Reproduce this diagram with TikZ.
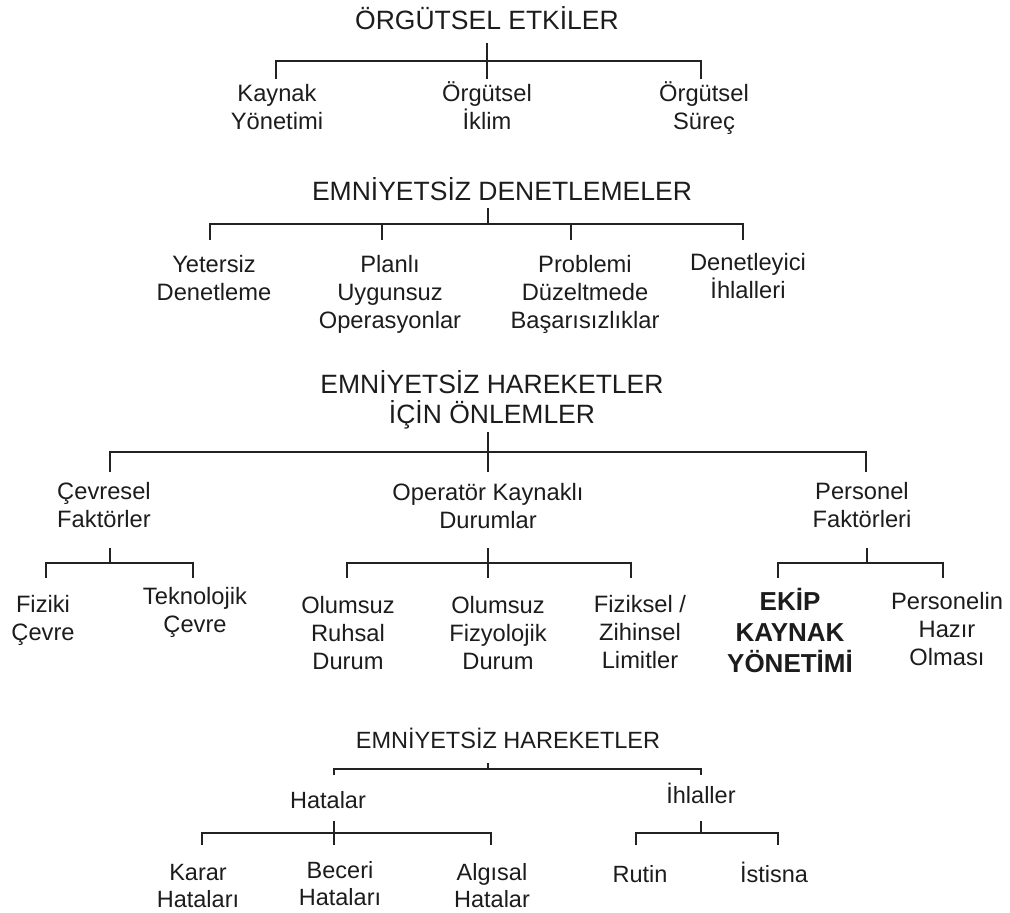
\documentclass[tikz,border=0pt]{standalone}
\usepackage{fontspec}
\setmainfont{Liberation Sans}
\usepackage{tikz}
\usetikzlibrary{positioning}
\definecolor{inkblack}{RGB}{28,28,28}
\definecolor{linegrey}{RGB}{34,34,34}
\newcommand{\headsize}{\fontsize{26.5}{30}\selectfont}
\newcommand{\leafsize}{\fontsize{23.7}{28}\selectfont}
\newcommand{\lowsize}{\fontsize{23.5}{27}\selectfont}
\newcommand{\keysize}{\fontsize{26}{31}\selectfont\bfseries}
\tikzset{
  base/.style={align=center, inner sep=0pt, text=inkblack, anchor=base},
  head/.style={base, font=\headsize},
  leaf/.style={base, font=\leafsize},
  lowhead/.style={base, font=\lowsize},
  lowleaf/.style={base, font=\lowsize},
  keyleaf/.style={base, font=\keysize},
  link/.style={draw=linegrey, line width=1.9pt},
  lowlink/.style={draw=linegrey, line width=1.4pt},
}

\begin{document}
\begin{tikzpicture}[x=1pt,y=-1pt]
  \useasboundingbox (0,0) rectangle (1010,913);
  % levels of the brackets
  \coordinate (s1top) at (0,43);  \coordinate (s1bar) at (0,61);  \coordinate (s1end) at (0,79);
  \coordinate (s2top) at (0,208); \coordinate (s2bar) at (0,224); \coordinate (s2end) at (0,240);
  \coordinate (s3top) at (0,432); \coordinate (s3bar) at (0,452); \coordinate (s3end) at (0,472);
  \coordinate (u1top) at (0,548); \coordinate (u1bar) at (0,563); \coordinate (u1end) at (0,578);
  \coordinate (v0top) at (0,763); \coordinate (v0bar) at (0,769); \coordinate (v0end) at (0,775);
  \coordinate (v1top) at (0,821); \coordinate (v1bar) at (0,833); \coordinate (v1end) at (0,845);

  % orgutsel etkiler (nodes sit on the baseline of their last line)
  \node[head] (t1) at (487,29) {ÖRGÜTSEL ETKİLER};
  \node[leaf] (a1) at (277,129) {Kaynak\\Yönetimi};
  \node[leaf] (a2) at (487,129) {Örgütsel\\İklim};
  \node[leaf] (a3) at (704,129) {Örgütsel\\Süreç};
  \draw[link] (t1 |- s1top) -- (a2 |- s1end);
  \draw[link] ([xshift=-1pt]a1 |- s1end) |- ([xshift=-3pt]a3 |- s1bar) -- ([xshift=-3pt]a3 |- s1end);

  % emniyetsiz denetlemeler
  \node[head] (t2) at (502,200) {EMNİYETSİZ DENETLEMELER};
  \node[leaf] (b1) at (214,300) {Yetersiz\\Denetleme};
  \node[leaf] (b2) at (390,328) {Planlı\\Uygunsuz\\Operasyonlar};
  \node[leaf] (b3) at (585,328) {Problemi\\Düzeltmede\\Başarısızlıklar};
  \node[leaf] (b4) at (748,298) {Denetleyici\\İhlalleri};
  \draw[link] ([xshift=-14pt]t2 |- s2top) -- ([xshift=-14pt]t2 |- s2bar);
  \draw[link] ([xshift=-4pt]b1 |- s2end) |- ([xshift=-5pt]b4 |- s2bar) -- ([xshift=-5pt]b4 |- s2end);
  \draw[link] ([xshift=-8pt]b2 |- s2bar) -- ([xshift=-8pt]b2 |- s2end);
  \draw[link] ([xshift=-14pt]b3 |- s2bar) -- ([xshift=-14pt]b3 |- s2end);

  % onlemler
  \node[head] (t3) at (492,423) {EMNİYETSİZ HAREKETLER\\İÇİN ÖNLEMLER};
  \node[leaf] (c1) at (104,527) {Çevresel\\Faktörler};
  \node[leaf] (c2) at (488,528) {Operatör Kaynaklı\\Durumlar};
  \node[leaf] (c3) at (862,527) {Personel\\Faktörleri};
  \draw[link] ([xshift=-4pt]t3 |- s3top) -- (c2 |- s3end);
  \draw[link] ([xshift=6pt]c1 |- s3end) |- ([xshift=4pt]c3 |- s3bar) -- ([xshift=4pt]c3 |- s3end);

  % cevresel faktorler
  \node[leaf] (d1) at (43,640) {Fiziki\\Çevre};
  \node[leaf] (d2) at (195,632) {Teknolojik\\Çevre};
  \draw[link] ([xshift=6pt]c1 |- u1top) -- ([xshift=6pt]c1 |- u1bar);
  \draw[link] ([xshift=3pt]d1 |- u1end) |- ([xshift=-2pt]d2 |- u1bar) -- ([xshift=-2pt]d2 |- u1end);

  % operator kaynakli durumlar
  \node[leaf] (e1) at (348,669) {Olumsuz\\Ruhsal\\Durum};
  \node[leaf] (e2) at (498,669) {Olumsuz\\Fizyolojik\\Durum};
  \node[leaf] (e3) at (640,668) {Fiziksel /\\Zihinsel\\Limitler};
  \draw[link] (c2 |- u1top) -- (c2 |- u1end);
  \draw[link] ([xshift=-1pt]e1 |- u1end) |- ([xshift=-9pt]e3 |- u1bar) -- ([xshift=-9pt]e3 |- u1end);

  % personel faktorleri
  \node[keyleaf] (f1) at (790,672) {EKİP\\KAYNAK\\YÖNETİMİ};
  \node[leaf] (f2) at (947,665) {Personelin\\Hazır\\Olması};
  \draw[link] ([xshift=5pt]c3 |- u1top) -- ([xshift=5pt]c3 |- u1bar);
  \draw[link] ([xshift=-12pt]f1 |- u1end) |- ([xshift=-4pt]f2 |- u1bar) -- ([xshift=-4pt]f2 |- u1end);

  % emniyetsiz hareketler
  \node[lowhead] (t4) at (508,748) {EMNİYETSİZ HAREKETLER};
  \node[lowleaf] (g1) at (328,808) {Hatalar};
  \node[lowleaf] (g2) at (701,803) {İhlaller};
  \draw[lowlink] ([xshift=-20pt]t4 |- v0top) -- ([xshift=-20pt]t4 |- v0bar);
  \draw[lowlink] ([xshift=6pt]g1 |- v0end) |- (g2 |- v0bar) -- (g2 |- v0end);

  % hatalar
  \node[lowleaf] (h1) at (198,907) {Karar\\Hataları};
  \node[lowleaf] (h2) at (340,905) {Beceri\\Hataları};
  \node[lowleaf] (h3) at (492,907) {Algısal\\Hatalar};
  \draw[lowlink] ([xshift=6pt]g1 |- v1top) -- ([xshift=6pt]g1 |- v1end);
  \draw[lowlink] ([xshift=4pt]h1 |- v1end) |- ([xshift=-1pt]h3 |- v1bar) -- ([xshift=-1pt]h3 |- v1end);

  % ihlaller
  \node[lowleaf] (k1) at (640,882) {Rutin};
  \node[lowleaf] (k2) at (774,882) {İstisna};
  \draw[lowlink] (g2 |- v1top) -- (g2 |- v1bar);
  \draw[lowlink] ([xshift=-4pt]k1 |- v1end) |- ([xshift=4pt]k2 |- v1bar) -- ([xshift=4pt]k2 |- v1end);
\end{tikzpicture}
\end{document}
